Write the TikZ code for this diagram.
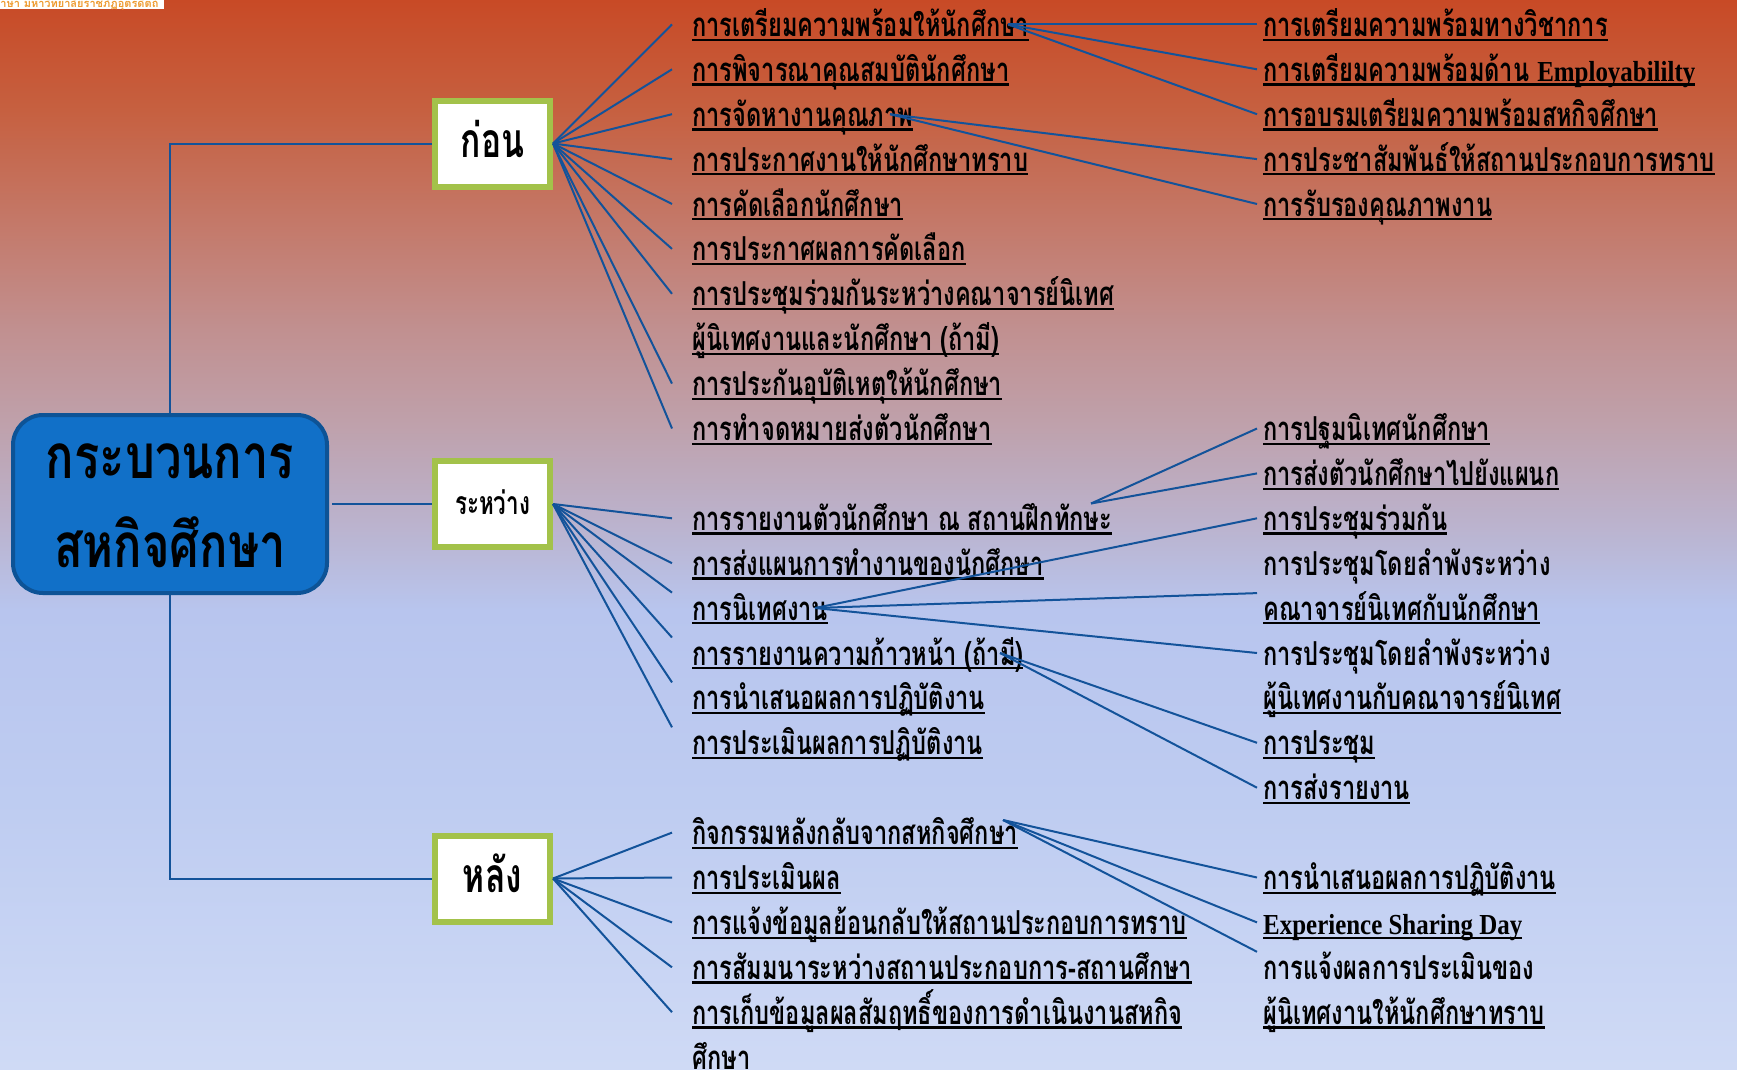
\documentclass[tikz,border=0pt]{standalone}
\usepackage{fontspec}
\newfontfamily\thai[Script=Thai,FakeStretch=0.715]{Loma}
\newfontfamily\thaiM[Script=Thai,FakeStretch=0.76]{Loma}
\newfontfamily\thaiN[Script=Thai,FakeStretch=0.70]{Loma}
\newfontfamily\thaiR[Script=Thai]{Loma}
\newfontfamily\latb[FakeStretch=0.86]{Liberation Serif}
\newcommand\lat[1]{{\latb\fontsize{29}{29}\selectfont #1}}
\usetikzlibrary{calc}
\definecolor{conn}{HTML}{13539A}
\definecolor{grn}{HTML}{A3C24A}
\definecolor{mainfill}{HTML}{1170C8}
\definecolor{mainbord}{HTML}{0D5396}
\definecolor{lbl}{HTML}{EE9A2E}
\definecolor{c1}{HTML}{C84A26}
\definecolor{c2}{HTML}{C66040}
\definecolor{c3}{HTML}{C47868}
\definecolor{c4}{HTML}{C19090}
\definecolor{c5}{HTML}{BFA0AA}
\definecolor{c6}{HTML}{BBB2CC}
\definecolor{c7}{HTML}{B8C5EE}
\definecolor{c8}{HTML}{BECCF1}
\definecolor{c9}{HTML}{CFDAF5}
\pgfdeclareverticalshading{bgsh}{100bp}{color(0bp)=(c9); color(25bp)=(c9); color(37.58bp)=(c8); color(46.47bp)=(c7); color(50.68bp)=(c6); color(55.36bp)=(c5); color(59.56bp)=(c4); color(64.71bp)=(c3); color(69.85bp)=(c2); color(75bp)=(c1); color(100bp)=(c1)}
\newsavebox\ulbox
\newcommand\ulx[1]{\sbox\ulbox{#1}\rlap{\rule[-4.3pt]{\wd\ulbox}{2.2pt}}\usebox\ulbox}
\begin{document}
\begin{tikzpicture}[x=1pt,y=-1pt,
  cl/.style={draw=conn,line width=2pt},
  tx/.style={anchor=base west,inner sep=0pt,font=\thai\bfseries\fontsize{33}{33}\selectfont},
  phase/.style={draw=grn,line width=6pt,fill=white,minimum width=115pt,minimum height=86pt,inner sep=0pt,text depth=0pt},
  mtx/.style={anchor=base,inner sep=0pt,font=\thaiM\bfseries\fontsize{62}{62}\selectfont},
  mainbox/.style={draw=mainbord,line width=4pt,fill=mainfill,rounded corners=30pt,minimum width=314pt,minimum height=178pt,inner sep=0pt}]
\useasboundingbox (0,0) rectangle (1737,1069);
\shade[shading=bgsh] (0,0) rectangle (1737,1069);
\begin{scope}
\clip (0,0) rectangle (164,9);
\fill[white] (0,0) rectangle (164,9);
\node[anchor=base west,inner sep=0pt,text=lbl,font=\thaiR\bfseries\fontsize{11}{11}\selectfont] (lab) at (-7,7) {ภาษา มหาวิทยาลัยราชภัฏอุตรดิตถ์};
\end{scope}
% phase boxes
\node[phase,text height=27pt,font=\thaiN\bfseries\fontsize{48}{48}\selectfont] (kon) at (492.5,143.5) {ก่อน};
\node[phase,text height=20pt,font=\thaiN\bfseries\fontsize{32}{32}\selectfont] (rw) at (492.5,504) {ระหว่าง};
\node[phase,text height=27pt,font=\thaiN\bfseries\fontsize{48}{48}\selectfont] (lang) at (492.5,878.5) {หลัง};
% trunk
\draw[cl] (kon.west) -| (170,413);
\draw[cl] (lang.west) -| (170,595);
\draw[cl] (332,504) -- (rw.west);
\node[mainbox] (main) at (170,504) {};
\node[mtx] (m1) at (170,478) {กระบวนการ};
\node[mtx] (m2) at (170,567) {สหกิจศึกษา};
% level 2 texts
\node[tx] (a0) at (692,{36.4+44.9*0}) {\ulx{การเตรียมความพร้อมให้นักศึกษา}};
\node[tx] (a1) at (692,{36.4+44.9*1}) {\ulx{การพิจารณาคุณสมบัตินักศึกษา}};
\node[tx] (a2) at (692,{36.4+44.9*2}) {\ulx{การจัดหางานคุณภาพ}};
\node[tx] (a3) at (692,{36.4+44.9*3}) {\ulx{การประกาศงานให้นักศึกษาทราบ}};
\node[tx] (a4) at (692,{36.4+44.9*4}) {\ulx{การคัดเลือกนักศึกษา}};
\node[tx] (a5) at (692,{36.4+44.9*5}) {\ulx{การประกาศผลการคัดเลือก}};
\node[tx] (a6) at (692,{36.4+44.9*6}) {\ulx{การประชุมร่วมกันระหว่างคณาจารย์นิเทศ}};
\node[tx] (a7) at (692,{36.4+44.9*7}) {\ulx{ผู้นิเทศงานและนักศึกษา (ถ้ามี)}};
\node[tx] (a8) at (692,{36.4+44.9*8}) {\ulx{การประกันอุบัติเหตุให้นักศึกษา}};
\node[tx] (a9) at (692,{36.4+44.9*9}) {\ulx{การทำจดหมายส่งตัวนักศึกษา}};
\node[tx] (b11) at (692,{36.4+44.9*11}) {\ulx{การรายงานตัวนักศึกษา ณ สถานฝึกทักษะ}};
\node[tx] (b12) at (692,{36.4+44.9*12}) {\ulx{การส่งแผนการทำงานของนักศึกษา}};
\node[tx] (b13) at (692,{36.4+44.9*13}) {\ulx{การนิเทศงาน}};
\node[tx] (b14) at (692,{36.4+44.9*14}) {\ulx{การรายงานความก้าวหน้า (ถ้ามี)}};
\node[tx] (b15) at (692,{36.4+44.9*15}) {\ulx{การนำเสนอผลการปฏิบัติงาน}};
\node[tx] (b16) at (692,{36.4+44.9*16}) {\ulx{การประเมินผลการปฏิบัติงาน}};
\node[tx] (c18) at (692,{36.4+44.9*18}) {\ulx{กิจกรรมหลังกลับจากสหกิจศึกษา}};
\node[tx] (c19) at (692,{36.4+44.9*19}) {\ulx{การประเมินผล}};
\node[tx] (c20) at (692,{36.4+44.9*20}) {\ulx{การแจ้งข้อมูลย้อนกลับให้สถานประกอบการทราบ}};
\node[tx] (c21) at (692,{36.4+44.9*21}) {\ulx{การสัมมนาระหว่างสถานประกอบการ-สถานศึกษา}};
\node[tx] (c22) at (692,{36.4+44.9*22}) {\ulx{การเก็บข้อมูลผลสัมฤทธิ์ของการดำเนินงานสหกิจ}};
\node[tx] (c23) at (692,{36.4+44.9*23}) {\ulx{ศึกษา}};
% level 3 texts
\node[tx] (d0) at (1263,{36.4+44.9*0}) {\ulx{การเตรียมความพร้อมทางวิชาการ}};
\node[tx] (d1) at (1263,{36.4+44.9*1}) {\ulx{การเตรียมความพร้อมด้าน \lat{Employabililty}}};
\node[tx] (d2) at (1263,{36.4+44.9*2}) {\ulx{การอบรมเตรียมความพร้อมสหกิจศึกษา}};
\node[tx] (d3) at (1263,{36.4+44.9*3}) {\ulx{การประชาสัมพันธ์ให้สถานประกอบการทราบ}};
\node[tx] (d4) at (1263,{36.4+44.9*4}) {\ulx{การรับรองคุณภาพงาน}};
\node[tx] (e9) at (1263,{36.4+44.9*9}) {\ulx{การปฐมนิเทศนักศึกษา}};
\node[tx] (e10) at (1263,{36.4+44.9*10}) {\ulx{การส่งตัวนักศึกษาไปยังแผนก}};
\node[tx] (e11) at (1263,{36.4+44.9*11}) {\ulx{การประชุมร่วมกัน}};
\node[tx] (e12) at (1263,{36.4+44.9*12}) {การประชุมโดยลำพังระหว่าง};
\node[tx] (e13) at (1263,{36.4+44.9*13}) {\ulx{คณาจารย์นิเทศกับนักศึกษา}};
\node[tx] (e14) at (1263,{36.4+44.9*14}) {การประชุมโดยลำพังระหว่าง};
\node[tx] (e15) at (1263,{36.4+44.9*15}) {\ulx{ผู้นิเทศงานกับคณาจารย์นิเทศ}};
\node[tx] (e16) at (1263,{36.4+44.9*16}) {\ulx{การประชุม}};
\node[tx] (e17) at (1263,{36.4+44.9*17}) {\ulx{การส่งรายงาน}};
\node[tx] (f19) at (1263,{36.4+44.9*19}) {\ulx{การนำเสนอผลการปฏิบัติงาน}};
\node[tx] (f20) at (1263,{36.4+44.9*20}) {\ulx{\lat{Experience Sharing Day}}};
\node[tx] (f21) at (1263,{36.4+44.9*21}) {การแจ้งผลการประเมินของ};
\node[tx] (f22) at (1263,{36.4+44.9*22}) {\ulx{ผู้นิเทศงานให้นักศึกษาทราบ}};
% level-2 connectors
\foreach \n in {a0,a1,a2,a3,a4,a5,a6,a8,a9}
  \draw[cl] (kon.east) -- ($(\n.base west)+(-20,-12)$);
\draw[cl] (rw.east) -- ($(b11.base west)+(-20,-12)$);
\draw[cl] (rw.east) -- ($(b12.base west)+(-20,-12)$);
\foreach \n in {b13,b14,b15,b16}
  \draw[cl] (rw.east) -- ($(\n.base west)+(-20,-27.5)$);
\foreach \n in {c18,c19,c20,c21,c22}
  \draw[cl] (lang.east) -- ($(\n.base west)+(-20,-12)$);
% level-3 connectors
\coordinate (A) at (1008,24.4);
\coordinate (B) at (890,114.2);
\coordinate (C) at (1091,503.5);
\coordinate (D) at (815,608);
\coordinate (E) at (1000,653);
\coordinate (F) at (1003,820);
\foreach \n in {d0,d1,d2} \draw[cl] (A) -- ($(\n.base west)+(-6,-12)$);
\foreach \n in {d3,d4} \draw[cl] (B) -- ($(\n.base west)+(-6,-12)$);
\foreach \n in {e9,e10} \draw[cl] (C) -- ($(\n.base west)+(-6,-12)$);
\draw[cl] (D) -- ($(e11.base west)+(-6,-12)$);
\draw[cl] (D) -- ($(e13.base west)+(-6,-27)$);
\draw[cl] (D) -- ($(e14.base west)+(-6,-12)$);
\foreach \n in {e16,e17} \draw[cl] (E) -- ($(\n.base west)+(-6,-12)$);
\draw[cl] (F) -- ($(f19.base west)+(-6,-12)$);
\draw[cl] (F) -- ($(f20.base west)+(-6,-12)$);
\draw[cl] (F) -- ($(f21.base west)+(-6,-27.5)$);
\end{tikzpicture}
\end{document}
